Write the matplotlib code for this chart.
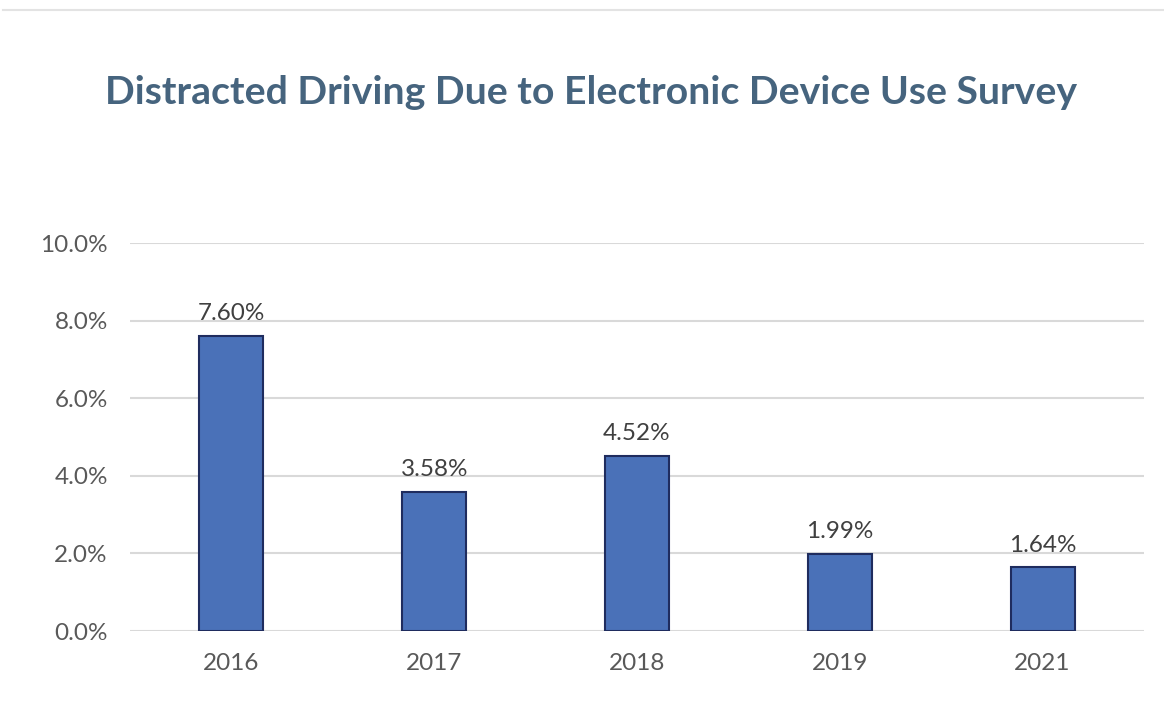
import matplotlib.pyplot as plt
from matplotlib.lines import Line2D

years = ['2016', '2017', '2018', '2019', '2021']
rates = [7.60, 3.58, 4.52, 1.99, 1.64]
yticks = [0, 2, 4, 6, 8, 10]

W, H = 1164, 717
fig = plt.figure(figsize=(W / 100, H / 100), dpi=100)
plt.rcParams['font.family'] = ['Lato', 'DejaVu Sans']

# thin rule across the top
fig.add_artist(Line2D([3 / W, 1], [1 - 10 / H, 1 - 10 / H], color='#e3e3e3', lw=1.5))

ax = fig.add_axes([130 / W, 1 - 631 / H, (1144 - 130) / W, (631 - 243) / H])
x = range(len(years))
bars = ax.bar(x, rates, width=0.315, color='#4a71b8', edgecolor='#1f2c5e', linewidth=1.5, zorder=3)

for xi, v in zip(x, rates):
    ax.annotate(f'{v:.2f}%', (xi, v), xytext=(0, 8.5), textcoords='offset points',
                ha='center', va='bottom', fontsize=17.5, color='#404040')

ax.set_xlim(-0.5, len(years) - 0.5)
ax.set_ylim(0, 10)
ax.set_yticks(yticks)
ax.set_yticklabels([f'{t:.1f}%' for t in yticks])
ax.set_xticks(list(x))
ax.set_xticklabels(years)
ax.tick_params(axis='both', length=0, labelsize=17.5, labelcolor='#595959')
ax.tick_params(axis='y', pad=16)
ax.tick_params(axis='x', pad=16)
ax.grid(axis='y', color='#d9d9d9', lw=1.5, zorder=0)
for s in ax.spines.values():
    s.set_visible(False)

fig.text(591 / W, 1 - 93 / H, 'Distracted Driving Due to Electronic Device Use Survey',
         ha='center', va='center', fontsize=28.3, fontweight='bold', color='#46647e')

fig.savefig('out.png', dpi=100)
